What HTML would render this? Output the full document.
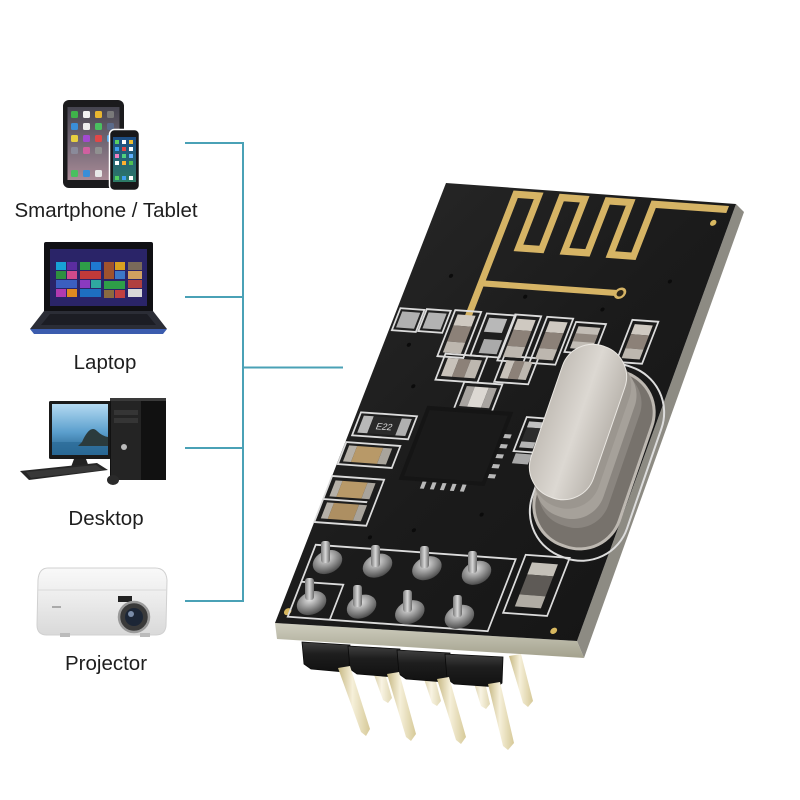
<!DOCTYPE html>
<html>
<head>
<meta charset="utf-8">
<style>
html,body{margin:0;padding:0;background:#fff;}
svg{display:block;}
</style>
</head>
<body>
<svg width="800" height="800" viewBox="0 0 800 800" xmlns="http://www.w3.org/2000/svg">
<defs>
  <linearGradient id="boardGrad" x1="0" y1="0" x2="1" y2="1">
    <stop offset="0" stop-color="#2a2a2a"/>
    <stop offset="0.5" stop-color="#1b1b1b"/>
    <stop offset="1" stop-color="#141414"/>
  </linearGradient>
  <linearGradient id="edgeGrad" x1="0" y1="0" x2="0" y2="1">
    <stop offset="0" stop-color="#cfcebf"/>
    <stop offset="1" stop-color="#a3a18d"/>
  </linearGradient>
  <linearGradient id="faceGrad" x1="0" y1="0" x2="1" y2="0">
    <stop offset="0" stop-color="#c4bfb8"/>
    <stop offset="0.5" stop-color="#dcd8d2"/>
    <stop offset="1" stop-color="#bcb7b0"/>
  </linearGradient>
  <radialGradient id="jointGrad" cx="0.4" cy="0.35" r="0.7">
    <stop offset="0" stop-color="#e4e4e4"/>
    <stop offset="0.5" stop-color="#959595"/>
    <stop offset="1" stop-color="#454545"/>
  </radialGradient>
  <linearGradient id="pinGrad" x1="0" y1="0" x2="1" y2="0">
    <stop offset="0" stop-color="#c6b782"/>
    <stop offset="0.45" stop-color="#f6f0da"/>
    <stop offset="1" stop-color="#d6c998"/>
  </linearGradient>
  <linearGradient id="stubGrad" x1="0" y1="0" x2="1" y2="0">
    <stop offset="0" stop-color="#7a7a7a"/>
    <stop offset="0.5" stop-color="#d8d8d8"/>
    <stop offset="1" stop-color="#6a6a6a"/>
  </linearGradient>
  <linearGradient id="blockGrad" x1="0" y1="0" x2="0" y2="1">
    <stop offset="0" stop-color="#404040"/>
    <stop offset="0.4" stop-color="#1e1e1e"/>
    <stop offset="1" stop-color="#111"/>
  </linearGradient>
  <linearGradient id="ipadScr" x1="0" y1="0" x2="0" y2="1">
    <stop offset="0" stop-color="#45444f"/>
    <stop offset="0.6" stop-color="#7d6f7c"/>
    <stop offset="1" stop-color="#a98a96"/>
  </linearGradient>
  <linearGradient id="phoneScr" x1="0" y1="0" x2="0" y2="1">
    <stop offset="0" stop-color="#1c4c84"/>
    <stop offset="1" stop-color="#2d7a66"/>
  </linearGradient>
  <linearGradient id="deskScr" x1="0" y1="0" x2="0" y2="1">
    <stop offset="0" stop-color="#b4daf2"/>
    <stop offset="0.55" stop-color="#5b9fcd"/>
    <stop offset="1" stop-color="#1f5a87"/>
  </linearGradient>
  <linearGradient id="projGrad" x1="0" y1="0" x2="0" y2="1">
    <stop offset="0" stop-color="#f9f9f9"/>
    <stop offset="0.45" stop-color="#ececec"/>
    <stop offset="1" stop-color="#d9d9d9"/>
  </linearGradient>
</defs>

<rect width="800" height="800" fill="#fff"/>

<!-- connector lines -->
<path d="M185 143H243V601H185M185 297H243M185 448H243M243 367.5H343" stroke="#4aa1b6" stroke-width="2" fill="none"/>

<!-- labels -->
<g font-family="'Liberation Sans', Arial, sans-serif" font-size="20.5" fill="#1e1e1e" text-anchor="middle">
  <text x="106" y="217">Smartphone / Tablet</text>
  <text x="105" y="369">Laptop</text>
  <text x="106" y="525">Desktop</text>
  <text x="106" y="670">Projector</text>
</g>

<!-- Tablet -->
<rect x="63" y="100" width="61" height="88" rx="6" fill="#1b1b1d"/>
<rect x="67.5" y="107" width="52" height="73" fill="url(#ipadScr)"/>
<g>
  <rect x="71" y="111" width="7" height="7" rx="1.5" fill="#3fb24a"/>
  <rect x="83" y="111" width="7" height="7" rx="1.5" fill="#f2f2f2"/>
  <rect x="95" y="111" width="7" height="7" rx="1.5" fill="#e8b630"/>
  <rect x="107" y="111" width="7" height="7" rx="1.5" fill="#7a7a7a"/>
  <rect x="71" y="123" width="7" height="7" rx="1.5" fill="#3a8ed8"/>
  <rect x="83" y="123" width="7" height="7" rx="1.5" fill="#eeeeee"/>
  <rect x="95" y="123" width="7" height="7" rx="1.5" fill="#4ac060"/>
  <rect x="107" y="123" width="7" height="7" rx="1.5" fill="#5b6a8a"/>
  <rect x="71" y="135" width="7" height="7" rx="1.5" fill="#e8d040"/>
  <rect x="83" y="135" width="7" height="7" rx="1.5" fill="#a24ad0"/>
  <rect x="95" y="135" width="7" height="7" rx="1.5" fill="#e04848"/>
  <rect x="107" y="135" width="7" height="7" rx="1.5" fill="#58a8e8"/>
  <rect x="71" y="147" width="7" height="7" rx="1.5" fill="#8a8a9a"/>
  <rect x="83" y="147" width="7" height="7" rx="1.5" fill="#d060a0"/>
  <rect x="95" y="147" width="7" height="7" rx="1.5" fill="#909090"/>
  <rect x="71" y="170" width="7" height="7" rx="1.5" fill="#4ac060"/>
  <rect x="83" y="170" width="7" height="7" rx="1.5" fill="#3a8ed8"/>
  <rect x="95" y="170" width="7" height="7" rx="1.5" fill="#e8e8e8"/>
</g>
<!-- Phone -->
<rect x="109.5" y="129.5" width="30" height="61" rx="5" fill="#18181a" stroke="#fff" stroke-width="1.5"/>
<rect x="113" y="137" width="23" height="45" fill="url(#phoneScr)"/>
<g>
  <rect x="115" y="140" width="4" height="4" fill="#5ad060"/>
  <rect x="122" y="140" width="4" height="4" fill="#fff"/>
  <rect x="129" y="140" width="4" height="4" fill="#f0c030"/>
  <rect x="115" y="147" width="4" height="4" fill="#40a0f0"/>
  <rect x="122" y="147" width="4" height="4" fill="#e04848"/>
  <rect x="129" y="147" width="4" height="4" fill="#fff"/>
  <rect x="115" y="154" width="4" height="4" fill="#f080c0"/>
  <rect x="122" y="154" width="4" height="4" fill="#50d080"/>
  <rect x="129" y="154" width="4" height="4" fill="#60b0ff"/>
  <rect x="115" y="161" width="4" height="4" fill="#fff"/>
  <rect x="122" y="161" width="4" height="4" fill="#ffb030"/>
  <rect x="129" y="161" width="4" height="4" fill="#50c050"/>
  <rect x="115" y="176" width="4" height="4" fill="#50d060"/>
  <rect x="122" y="176" width="4" height="4" fill="#40a0f0"/>
  <rect x="129" y="176" width="4" height="4" fill="#fff"/>
</g>

<!-- Laptop -->
<path d="M44 244 Q44 242 46 242 H151 Q153 242 153 244 V312 H44Z" fill="#101014"/>
<rect x="50" y="249" width="97" height="57" fill="#2a2468"/>
<g>
  <rect x="56" y="262" width="10" height="8" fill="#17a2d6"/>
  <rect x="67" y="262" width="10" height="8" fill="#5b2da0"/>
  <rect x="56" y="271" width="10" height="8" fill="#2f8f3f"/>
  <rect x="67" y="271" width="10" height="8" fill="#d04a8a"/>
  <rect x="56" y="280" width="21" height="8" fill="#3b5fc0"/>
  <rect x="56" y="289" width="10" height="8" fill="#b03ab0"/>
  <rect x="67" y="289" width="10" height="8" fill="#e08a20"/>
  <rect x="80" y="262" width="10" height="8" fill="#2e9e48"/>
  <rect x="91" y="262" width="10" height="8" fill="#1f7ad0"/>
  <rect x="80" y="271" width="21" height="8" fill="#c23a3a"/>
  <rect x="80" y="280" width="10" height="8" fill="#8a3ac0"/>
  <rect x="91" y="280" width="10" height="8" fill="#2fa8a0"/>
  <rect x="80" y="289" width="21" height="8" fill="#1e6fc0"/>
  <rect x="104" y="262" width="10" height="17" fill="#a0522d"/>
  <rect x="115" y="262" width="10" height="8" fill="#d9a020"/>
  <rect x="115" y="271" width="10" height="8" fill="#3c78c8"/>
  <rect x="104" y="281" width="21" height="8" fill="#2e9e48"/>
  <rect x="104" y="290" width="10" height="8" fill="#8a6a40"/>
  <rect x="115" y="290" width="10" height="8" fill="#c04040"/>
  <rect x="128" y="262" width="14" height="8" fill="#7a6a5a"/>
  <rect x="128" y="271" width="14" height="8" fill="#d0a060"/>
  <rect x="128" y="280" width="14" height="8" fill="#b04040"/>
  <rect x="128" y="289" width="14" height="8" fill="#d8d8d8"/>
</g>
<path d="M44 311 H153 L167 329 H30Z" fill="#2b2d36"/>
<path d="M50 314 H147 L156 325 H41Z" fill="#1c1d24"/>
<path d="M30 329 H167 L163 334 H34Z" fill="#3b5cae"/>

<!-- Desktop -->
<rect x="49" y="401" width="62" height="58" rx="1.5" fill="#1a1a1a"/>
<rect x="52" y="404" width="56" height="51" fill="url(#deskScr)"/>
<rect x="52" y="442" width="56" height="13" fill="#2c6c98" opacity="0.75"/>
<path d="M82 442 Q90 424 97 431 Q102 436 108 437 V446 H78Z" fill="#2b3b3d"/>
<path d="M74 459 H86 L89 467 H71Z" fill="#222"/>
<path d="M20 471 L97 463 L108 470 L29 480Z" fill="#262626"/>
<path d="M26 472 L96 465 L103 470 L31 478Z" fill="#383838"/>
<rect x="110" y="398" width="56" height="82" fill="#111"/>
<rect x="111" y="399" width="30" height="81" fill="#242424"/>
<rect x="110" y="398" width="56" height="3" fill="#3a3a3a"/>
<rect x="114" y="410" width="24" height="5" fill="#353535"/>
<rect x="114" y="418" width="24" height="5" fill="#353535"/>
<circle cx="124" cy="447" r="3" fill="#bbb"/>
<ellipse cx="113" cy="480" rx="6" ry="5" fill="#2a2a2a"/>

<!-- Projector -->
<path d="M48 568 H155 Q166 568 167 580 L166 626 Q165 635 156 635 H47 Q37 635 37 625 L38 580 Q39 568 48 568Z" fill="url(#projGrad)" stroke="#d0d0d0" stroke-width="1"/>
<path d="M38 590 H166" stroke="#dadada" stroke-width="1"/>
<rect x="118" y="596" width="14" height="6" fill="#222"/>
<rect x="52" y="606" width="9" height="2" fill="#aaa"/>
<circle cx="134" cy="617" r="15" fill="#3a3a3a" stroke="#9a9a9a" stroke-width="2.5"/>
<circle cx="134" cy="617" r="9" fill="#1c2636"/>
<circle cx="131" cy="614" r="3" fill="#7a8ca8"/>
<rect x="60" y="633" width="10" height="4" fill="#bbb"/>
<rect x="140" y="633" width="10" height="4" fill="#bbb"/>

<!-- ========== PCB ========== -->
<polygon points="736,204 744,212 584,658 577,641" fill="#8d8b83"/>
<polygon points="275,623 577,641 584,658 277,639" fill="url(#edgeGrad)"/>
<polygon points="446,183 736,204 577,641 275,623" fill="url(#boardGrad)"/>

<g transform="matrix(1,0.0724,-0.3886,1,446,183)">
  <!-- vias -->
  <g fill="#0b0b0b">
    <circle cx="40" cy="90" r="2"/><circle cx="120" cy="105" r="2"/><circle cx="200" cy="112" r="2"/>
    <circle cx="262" cy="190" r="2"/><circle cx="45" cy="200" r="2"/><circle cx="160" cy="320" r="2"/>
    <circle cx="230" cy="325" r="2"/><circle cx="100" cy="340" r="2"/><circle cx="265" cy="265" r="2"/>
    <circle cx="25" cy="160" r="2"/><circle cx="255" cy="80" r="2"/><circle cx="60" cy="350" r="2"/>
  </g>
  <!-- antenna -->
  <path d="M72 128 V6 H95 V58 H118 V6 H141 V58 H164 V6 H187 V58 H210 V6 H284" fill="none" stroke="#d6b465" stroke-width="7" stroke-linejoin="miter"/>
  <path d="M72 95 H209" fill="none" stroke="#d6b465" stroke-width="6"/>
  <circle cx="211" cy="95" r="4.5" fill="#2a2418" stroke="#d6b465" stroke-width="2.5"/>
  <circle cx="275" cy="20" r="3" fill="#d8b860"/>
  <circle cx="8" cy="428" r="3.5" fill="#d8b860"/>
  <circle cx="274" cy="428" r="3.2" fill="#d8b860"/>

  <!-- silkscreen outlines -->
  <g fill="none" stroke="#dcdcdc" stroke-width="1.8">
    <rect x="3" y="125" width="24" height="22"/>
    <rect x="29" y="124" width="24" height="22"/>
    <rect x="57" y="123" width="26" height="46"/>
    <rect x="89" y="124" width="29" height="42"/>
    <rect x="117" y="123" width="26" height="46"/>
    <rect x="149" y="123" width="26" height="46"/>
    <rect x="179" y="126" width="30" height="30"/>
    <rect x="233" y="120" width="26" height="42"/>
    <rect x="64" y="166" width="42" height="26"/>
    <rect x="122" y="164" width="34" height="26"/>
    <rect x="93" y="192" width="38" height="28"/>
    <rect x="167" y="222" width="22" height="34"/>
    <rect x="4" y="229" width="56" height="23"/>
    <rect x="1" y="259" width="54" height="22"/>
    <rect x="0" y="293" width="52" height="46"/>
    <path d="M0 316 H44"/>
    <rect x="10" y="361" width="200" height="72"/>
    <path d="M10 398 H52 V433"/>
    <rect x="218" y="356" width="44" height="58"/>
  </g>

  <!-- pads & components top cluster -->
  <rect x="6" y="128" width="18" height="16" fill="#b0b0b0"/>
  <rect x="32" y="127" width="18" height="16" fill="#b3b3b3"/>
  <g>
    <rect x="61" y="127" width="18" height="11" fill="#cfc9c1"/>
    <rect x="61" y="138" width="18" height="16" fill="#8c8178"/>
    <rect x="61" y="154" width="18" height="11" fill="#bdb7af"/>
  </g>
  <rect x="93" y="128" width="18" height="14" fill="#b8b8b8"/>
  <rect x="96" y="149" width="18" height="14" fill="#aaaaaa"/>
  <g>
    <rect x="121" y="127" width="18" height="11" fill="#cfc9c1"/>
    <rect x="121" y="138" width="18" height="16" fill="#8c8178"/>
    <rect x="121" y="154" width="18" height="11" fill="#bdb7af"/>
  </g>
  <g>
    <rect x="153" y="127" width="18" height="11" fill="#cfc9c1"/>
    <rect x="153" y="138" width="18" height="16" fill="#8c8178"/>
    <rect x="153" y="154" width="18" height="11" fill="#bdb7af"/>
  </g>
  <rect x="183" y="130" width="22" height="22" fill="#c2bdb6"/>
  <rect x="183" y="137" width="22" height="8" fill="#8f867e"/>
  <g>
    <rect x="237" y="124" width="18" height="10" fill="#cfc9c1"/>
    <rect x="237" y="134" width="18" height="14" fill="#8c8178"/>
    <rect x="237" y="148" width="18" height="10" fill="#bdb7af"/>
  </g>
  <g>
    <rect x="68" y="170" width="11" height="18" fill="#c8c2ba"/>
    <rect x="79" y="170" width="12" height="18" fill="#8c8178"/>
    <rect x="91" y="170" width="11" height="18" fill="#bdb7af"/>
  </g>
  <g>
    <rect x="126" y="168" width="8" height="18" fill="#c8c2ba"/>
    <rect x="134" y="168" width="10" height="18" fill="#8c8178"/>
    <rect x="144" y="168" width="8" height="18" fill="#bdb7af"/>
  </g>
  <g>
    <rect x="97" y="196" width="8" height="20" fill="#a8a4a0"/>
    <rect x="105" y="196" width="14" height="20" fill="#dcd8d3"/>
    <rect x="119" y="196" width="8" height="20" fill="#a8a4a0"/>
  </g>

  <!-- chip -->
  <rect x="66" y="218" width="86" height="74" fill="#151515"/>
  <rect x="70" y="222" width="78" height="66" fill="#1d1d1d" opacity="0.7"/>
  <g fill="#b8b8b8">
    <rect x="90" y="292" width="4" height="7"/><rect x="100" y="292" width="4" height="7"/>
    <rect x="110" y="292" width="4" height="7"/><rect x="120" y="292" width="4" height="7"/>
    <rect x="130" y="292" width="4" height="7"/>
    <rect x="152" y="240" width="7" height="4"/><rect x="152" y="250" width="7" height="4"/>
    <rect x="152" y="260" width="7" height="4"/><rect x="152" y="270" width="7" height="4"/>
    <rect x="152" y="280" width="7" height="4"/>
  </g>

  <!-- resistor near crystal -->
  <rect x="171" y="226" width="14" height="6" fill="#c0c0c0"/>
  <rect x="171" y="232" width="14" height="14" fill="#2c2c2c"/>
  <rect x="171" y="246" width="14" height="6" fill="#b5b5b5"/>
  <rect x="170" y="258" width="16" height="10" fill="#a8a8a8"/>

  <!-- E22 resistor -->
  <rect x="8" y="232" width="10" height="17" fill="#b8b8b8"/>
  <rect x="18" y="232" width="28" height="17" fill="#2a2a2a"/>
  <rect x="46" y="232" width="10" height="17" fill="#b0b0b0"/>
  <text x="32" y="244.5" font-family="'Liberation Sans', Arial, sans-serif" font-size="9" fill="#dddddd" text-anchor="middle">E22</text>

  <!-- caps -->
  <rect x="5" y="262" width="8" height="16" fill="#b5b0a8"/>
  <rect x="13" y="262" width="26" height="16" fill="#b89968"/>
  <rect x="39" y="262" width="9" height="16" fill="#a9a49c"/>
  <rect x="5" y="297" width="7" height="16" fill="#b5b0a8"/>
  <rect x="12" y="297" width="25" height="16" fill="#b89968"/>
  <rect x="37" y="297" width="8" height="16" fill="#a9a49c"/>
  <rect x="5" y="319" width="7" height="16" fill="#b5b0a8"/>
  <rect x="12" y="319" width="25" height="16" fill="#ad8f62"/>
  <rect x="37" y="319" width="8" height="16" fill="#a9a49c"/>

  <!-- solder joints -->
  <g fill="url(#jointGrad)">
    <ellipse cx="28" cy="377" rx="14" ry="12"/>
    <ellipse cx="78" cy="377" rx="14" ry="12"/>
    <ellipse cx="127" cy="376" rx="14" ry="12"/>
    <ellipse cx="177" cy="377" rx="14" ry="12"/>
    <ellipse cx="28" cy="418" rx="14" ry="12"/>
    <ellipse cx="78" cy="418" rx="14" ry="12"/>
    <ellipse cx="127" cy="420" rx="14" ry="12"/>
    <ellipse cx="177" cy="421" rx="14" ry="12"/>
  </g>

  <!-- bottom right component -->
  <rect x="227" y="363" width="26" height="12" fill="#c4c0b8"/>
  <rect x="227" y="375" width="26" height="20" fill="#5e5a56"/>
  <rect x="227" y="395" width="26" height="12" fill="#b0aca4"/>
</g>

<!-- pin stubs on joints -->
<g fill="url(#stubGrad)">
  <rect x="321" y="541" width="9" height="22" rx="3"/>
  <rect x="371" y="545" width="9" height="22" rx="3"/>
  <rect x="420" y="546" width="9" height="22" rx="3"/>
  <rect x="468" y="551" width="9" height="22" rx="3"/>
  <rect x="305" y="578" width="9" height="22" rx="3"/>
  <rect x="353" y="585" width="9" height="22" rx="3"/>
  <rect x="403" y="590" width="9" height="22" rx="3"/>
  <rect x="453" y="595" width="9" height="22" rx="3"/>
</g>

<!-- crystal -->
<g transform="translate(597,462) rotate(19)">
  <rect x="-50" y="-101" width="100" height="202" rx="48" fill="none" stroke="#dcdcdc" stroke-width="2"/>
</g>
<g transform="translate(594,459) rotate(19)">
  <rect x="-44" y="-92" width="88" height="184" rx="42" fill="#77726c" stroke="#bdb8b1" stroke-width="3"/>
</g>
<g transform="translate(590,448) rotate(19)">
  <rect x="-36" y="-82" width="72" height="164" rx="34" fill="#8a857f"/>
</g>
<g transform="translate(586,440) rotate(19)">
  <rect x="-35" y="-81" width="70" height="162" rx="33" fill="#a6a19a"/>
</g>
<g transform="translate(582,431) rotate(19)">
  <rect x="-34" y="-80" width="68" height="160" rx="33" fill="#9b968f"/>
</g>
<g transform="translate(578,422) rotate(19)">
  <rect x="-33" y="-80" width="66" height="160" rx="32" fill="url(#faceGrad)" stroke="#ebe8e3" stroke-width="1"/>
</g>

<!-- back pins -->
<g fill="url(#pinGrad)">
  <polygon points="509,656 521,654 533,701 528,707 523,703"/>
  <polygon points="373,672 384,670 392,698 388,703 383,700" opacity="0.75"/>
  <polygon points="423,676 434,674 441,701 437,706 432,703" opacity="0.75"/>
  <polygon points="473,680 484,678 490,704 486,709 481,706" opacity="0.75"/>
</g>

<!-- header blocks -->
<g fill="url(#blockGrad)" stroke="#0a0a0a" stroke-width="0.8">
  <polygon points="302,642 350,645 349,668 344,672 311,669 304,664"/>
  <polygon points="348,646 400,649 399,673 394,677 357,674 350,669"/>
  <polygon points="397,650 450,653 449,678 444,682 406,679 399,674"/>
  <polygon points="445,654 503,657 502,683 497,687 454,684 447,679"/>
</g>

<!-- front pins -->
<g fill="url(#pinGrad)">
  <polygon points="338,668 350,666 370,729 366,736 361,732"/>
  <polygon points="387,674 399,672 416,734 411,741 406,737"/>
  <polygon points="437,679 449,677 466,737 461,744 456,740"/>
  <polygon points="488,684 500,682 514,743 508,750 503,746"/>
</g>
</svg>
</body>
</html>
